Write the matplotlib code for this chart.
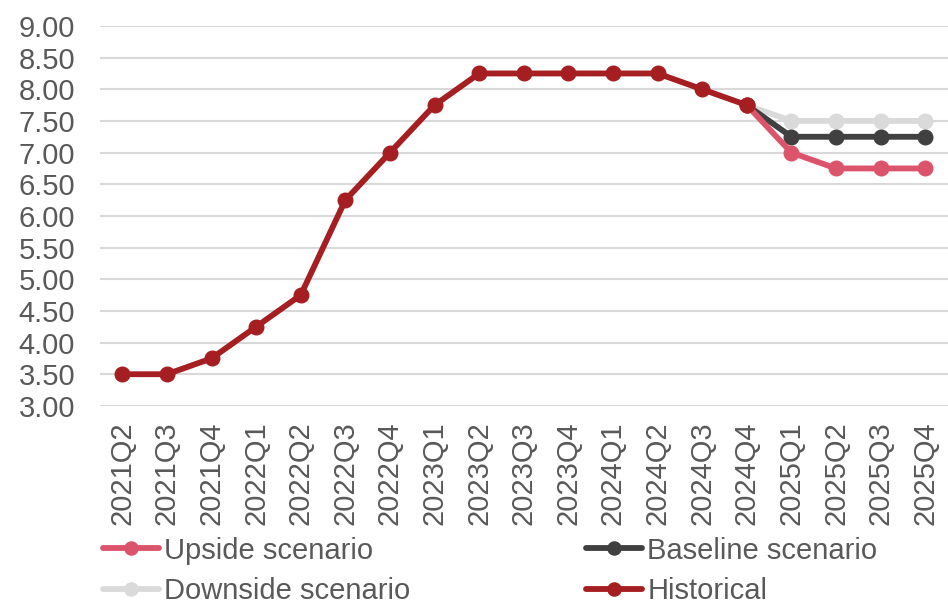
import matplotlib.pyplot as plt
import numpy as np

plt.rcParams['font.family'] = ['Liberation Sans', 'DejaVu Sans']

quarters = ['2021Q2', '2021Q3', '2021Q4', '2022Q1', '2022Q2', '2022Q3', '2022Q4',
            '2023Q1', '2023Q2', '2023Q3', '2023Q4', '2024Q1', '2024Q2', '2024Q3',
            '2024Q4', '2025Q1', '2025Q2', '2025Q3', '2025Q4']
historical = [3.50, 3.50, 3.75, 4.25, 4.75, 6.25, 7.00, 7.75, 8.25, 8.25, 8.25,
              8.25, 8.25, 8.00, 7.75]
scen_start = 14  # scenarios branch off at 2024Q4
upside = [7.75, 7.00, 6.75, 6.75, 6.75]
baseline = [7.75, 7.25, 7.25, 7.25, 7.25]
downside = [7.75, 7.50, 7.50, 7.50, 7.50]

c_up = '#dc546b'
c_base = '#404040'
c_down = '#dadada'
c_hist = '#a51e22'
txt = '#595959'

fig = plt.figure(figsize=(9.48, 6.04), dpi=100)
ax = fig.add_axes([0.1055, 0.328, 0.894, 0.629])

x = np.arange(len(quarters))
xs = x[scen_start:scen_start + len(upside)]
kw = dict(lw=4.2, marker='o', ms=10.5, solid_capstyle='round')
l_down, = ax.plot(xs, downside, color=c_down, label='Downside scenario', **kw)
l_base, = ax.plot(xs, baseline, color=c_base, label='Baseline scenario', **kw)
l_up, = ax.plot(xs, upside, color=c_up, label='Upside scenario', **kw)
l_hist, = ax.plot(x[:len(historical)], historical, color=c_hist, label='Historical', **kw)

ax.set_xlim(-0.5, len(quarters) - 0.5)
ax.set_ylim(3, 9)
ax.set_yticks(np.arange(3, 9.01, 0.5))
ax.set_yticklabels(['%.2f' % v for v in np.arange(3, 9.01, 0.5)])
ax.set_xticks(x)
ax.set_xticklabels(quarters, rotation=90)
ax.tick_params(length=0, labelsize=21, colors=txt)
ax.tick_params(axis='y', pad=18)
ax.tick_params(axis='x', pad=11)
ax.yaxis.grid(True, color='#d9d9d9', lw=1.5)
ax.set_axisbelow(True)
for s in ax.spines.values():
    s.set_visible(False)

# legend fills column-wise, so order gives rows Upside/Baseline, Downside/Historical
fig.legend(handles=[l_up, l_down, l_base, l_hist], loc='lower left',
           bbox_to_anchor=(0.102, -0.011), ncol=2, frameon=False, fontsize=21,
           labelcolor=txt, handlelength=1.95, handletextpad=0.17,
           columnspacing=6.0, labelspacing=0.42, borderaxespad=0, borderpad=0.2,
           markerscale=0.9)

fig.savefig('out.png', dpi=100)
